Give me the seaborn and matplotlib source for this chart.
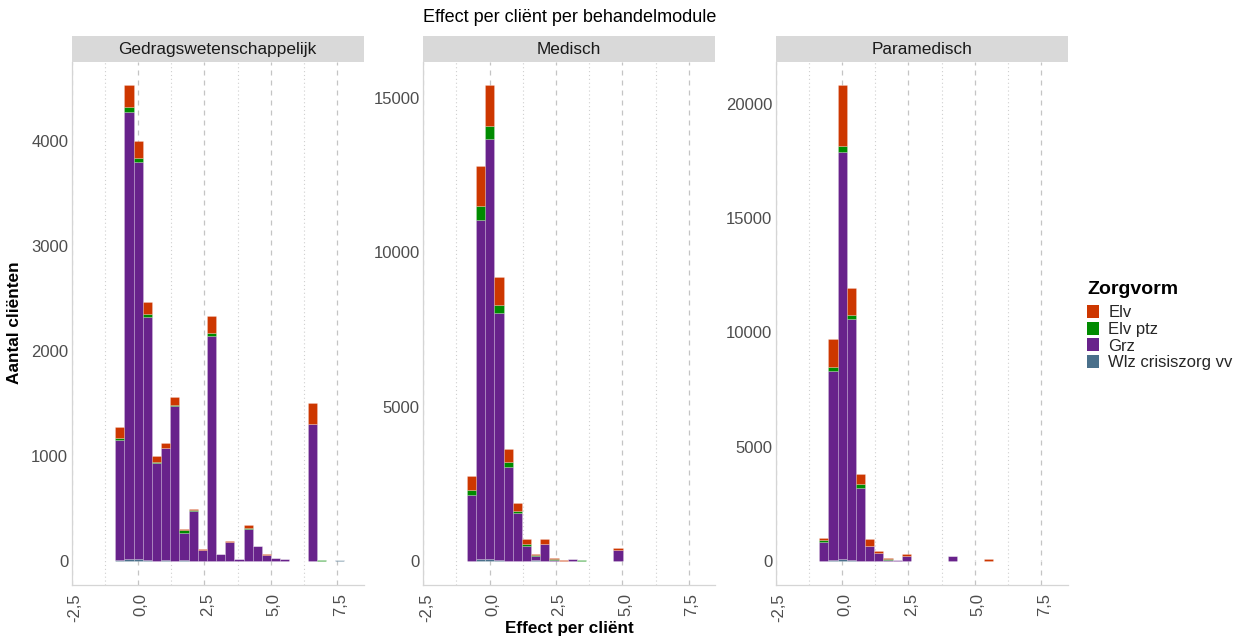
import numpy as np
import pandas as pd
import seaborn as sns
import matplotlib
matplotlib.use("Agg")
import matplotlib.pyplot as plt
import matplotlib.transforms as mtransforms
from matplotlib.ticker import MultipleLocator, FuncFormatter
from matplotlib.patches import Patch

# ---------------- data ----------------
bin_centers = [-1.03, -0.68, -0.34, 0.01, 0.35, 0.70, 1.04, 1.39, 1.73, 2.08,
               2.42, 2.77, 3.11, 3.46, 3.80, 4.15, 4.49, 4.84, 5.18, 5.53,
               5.87, 6.22, 6.56, 6.91, 7.25, 7.60, 7.94]

modules = ["Gedragswetenschappelijk", "Medisch", "Paramedisch"]
zorgvormen = ["Elv", "Elv ptz", "Grz", "Wlz crisiszorg vv"]
zorg_colors = ["#CD3700", "#008B00", "#68228B", "#4A708B"]

gedrag_elv = [0, 110, 207, 163, 113, 54, 40, 80, 7, 12, 8, 154, 0, 10, 0, 24, 0, 5, 0, 0, 2, 0, 200, 0, 0, 0, 0]
gedrag_elvptz = [0, 20, 41, 40, 30, 10, 8, 6, 25, 7, 2, 30, 0, 2, 0, 5, 0, 0, 0, 0, 0, 0, 0, 15, 0, 0, 0]
gedrag_grz = [0, 1135, 4254, 3777, 2311, 931, 1063, 1471, 260, 474, 105, 2141, 66, 180, 17, 308, 141, 62, 32, 19, 3, 0, 1305, 0, 0, 0, 0]
gedrag_wlz = [0, 15, 25, 20, 10, 5, 10, 5, 10, 5, 2, 5, 4, 5, 2, 3, 2, 0, 0, 0, 0, 0, 3, 0, 0, 10, 0]

medisch_elv = [10, 432, 1274, 1296, 929, 421, 259, 130, 25, 172, 40, 43, 0, 5, 3, 3, 0, 87, 0, 0, 0, 0, 0, 0, 0, 0, 0]
medisch_elvptz = [0, 173, 454, 432, 238, 151, 43, 65, 40, 0, 30, 0, 0, 5, 0, 0, 0, 0, 0, 0, 15, 0, 0, 0, 0, 0, 0]
medisch_grz = [0, 2118, 10979, 13593, 8006, 3036, 1567, 498, 132, 557, 35, 0, 60, 10, 0, 3, 0, 356, 0, 0, 0, 0, 0, 0, 0, 0, 0]
medisch_wlz = [0, 20, 80, 80, 40, 20, 10, 10, 30, 5, 3, 0, 5, 10, 0, 0, 0, 0, 0, 0, 0, 0, 0, 0, 0, 0, 0]

para_elv = [0, 100, 1225, 2639, 1210, 452, 300, 72, 44, 0, 88, 0, 0, 10, 5, 0, 0, 10, 0, 87, 0, 5, 3, 0, 0, 0, 0]
para_elvptz = [0, 75, 146, 262, 175, 160, 20, 0, 44, 0, 0, 0, 0, 0, 0, 0, 15, 0, 0, 0, 0, 0, 0, 0, 0, 0, 0]
para_grz = [0, 836, 8275, 17800, 10521, 3188, 646, 360, 70, 42, 230, 15, 29, 0, 5, 219, 0, 0, 10, 0, 10, 0, 0, 0, 0, 0, 0]
para_wlz = [0, 10, 50, 90, 50, 20, 10, 5, 2, 2, 3, 14, 0, 0, 0, 0, 0, 0, 0, 0, 0, 0, 0, 0, 0, 0, 0]

x_ticks = [-2.5, 0.0, 2.5, 5.0, 7.5]
title = "Effect per cliënt per behandelmodule"
x_label = "Effect per cliënt"
y_label = "Aantal cliënten"
legend_title = "Zorgvorm"

series = {
    "Gedragswetenschappelijk": [gedrag_elv, gedrag_elvptz, gedrag_grz, gedrag_wlz],
    "Medisch": [medisch_elv, medisch_elvptz, medisch_grz, medisch_wlz],
    "Paramedisch": [para_elv, para_elvptz, para_grz, para_wlz],
}

rows = []
for mod in modules:
    for zv, vals in zip(zorgvormen, series[mod]):
        for c, v in zip(bin_centers, vals):
            rows.append({"module": mod, "Zorgvorm": zv, "effect": c, "aantal": v})
df = pd.DataFrame(rows)

# bin edges derived from the bin centres
bw = bin_centers[1] - bin_centers[0]
edges = [c - bw / 2 for c in bin_centers] + [bin_centers[-1] + bw / 2]

palette = dict(zip(zorgvormen, zorg_colors))

# ---------------- style ----------------
sns.set_theme(style="white")
plt.rcParams["font.family"] = ["Liberation Sans", "DejaVu Sans"]

fig = plt.figure(figsize=(12.4, 6.38), dpi=100)

W, H = 1240, 638
panel_lefts = [71.7, 423.3, 775.7]
panel_w = 292.0
ax_top, ax_bot = 61.7, 585.0
strip_top = 36.0

y_steps = {"Gedragswetenschappelijk": 1000, "Medisch": 5000, "Paramedisch": 5000}
label_shift = mtransforms.ScaledTranslation(3 / 100, 0, fig.dpi_scale_trans)

for mod, pl in zip(modules, panel_lefts):
    ax = fig.add_axes([pl / W, 1 - ax_bot / H, panel_w / W, (ax_bot - ax_top) / H])
    sub = df[df["module"] == mod]
    sns.histplot(data=sub, x="effect", weights="aantal", hue="Zorgvorm",
                 hue_order=zorgvormen, palette=palette, multiple="stack",
                 bins=edges, ax=ax, legend=False, alpha=1.0,
                 edgecolor=(1, 1, 1, 0.35), linewidth=0.4)
    totals = sub.groupby("effect")["aantal"].sum()
    mx = totals.max()
    ax.set_ylim(-0.05 * mx, 1.05 * mx)
    ax.set_xlim(-2.5, 8.5)
    ax.set_xlabel("")
    ax.set_ylabel("")

    ax.xaxis.set_major_locator(MultipleLocator(2.5))
    ax.xaxis.set_minor_locator(MultipleLocator(1.25))
    ax.yaxis.set_major_locator(MultipleLocator(y_steps[mod]))
    ax.xaxis.set_major_formatter(FuncFormatter(lambda v, p: f"{v:.1f}".replace(".", ",")))
    ax.yaxis.set_major_formatter(FuncFormatter(lambda v, p: f"{int(round(v))}"))
    ax.set_xticks(x_ticks)

    ax.grid(False)
    ax.grid(axis="x", which="major", color="#C4C4C4", linestyle=(0, (4, 4)), linewidth=0.9)
    ax.grid(axis="x", which="minor", color="#CFCFCF", linestyle=(0, (1, 2.5)), linewidth=0.8)
    ax.set_axisbelow(True)

    for s in ["top", "right"]:
        ax.spines[s].set_visible(False)
    for s in ["left", "bottom"]:
        ax.spines[s].set_color("#D5D5D5")
        ax.spines[s].set_linewidth(0.9)

    ax.tick_params(axis="x", which="major", length=3, color="#BDBDBD", width=0.8,
                   labelsize=12, labelcolor="#4D4D4D", labelrotation=90, pad=3)
    ax.tick_params(axis="x", which="minor", length=0)
    ax.tick_params(axis="y", length=0, labelsize=12, labelcolor="#4D4D4D", pad=2.5)
    for lab in ax.get_xticklabels():
        lab.set_verticalalignment("top")
        lab.set_transform(lab.get_transform() + label_shift)

    # facet strip
    sax = fig.add_axes([pl / W, 1 - ax_top / H, panel_w / W, (ax_top - strip_top) / H])
    sax.set_facecolor("#D9D9D9")
    sax.set_xticks([])
    sax.set_yticks([])
    for s in sax.spines.values():
        s.set_visible(False)
    sax.text(0.5, 0.48, mod, ha="center", va="center", fontsize=12.4,
             color="#1A1A1A", transform=sax.transAxes)

center_x = (panel_lefts[0] + panel_lefts[-1] + panel_w) / 2 / W
fig.text(center_x, 1 - 18 / H, title, ha="center", va="center", fontsize=13, color="#000000")
fig.text(center_x, 1 - 628 / H, x_label, ha="center", va="center", fontsize=12.3,
         fontweight="bold", color="#000000")
fig.text(15 / W, 1 - 323 / H, y_label, ha="center", va="center", rotation=90,
         fontsize=12.4, fontweight="bold", color="#000000")

# legend
fig.text(1087 / W, 1 - 290 / H, legend_title, ha="left", va="center", fontsize=14,
         fontweight="bold", color="#000000")
handles = [Patch(facecolor=palette[z], edgecolor="none") for z in zorgvormen]
fig.legend(handles, zorgvormen, loc="upper left",
           bbox_to_anchor=(1087 / W, 1 - 305 / H), frameon=False, borderpad=0,
           borderaxespad=0, handlelength=0.72, handleheight=0.85, handletextpad=0.55,
           labelspacing=0.07, fontsize=12, alignment="left")

fig.savefig("out.png", dpi=100)
